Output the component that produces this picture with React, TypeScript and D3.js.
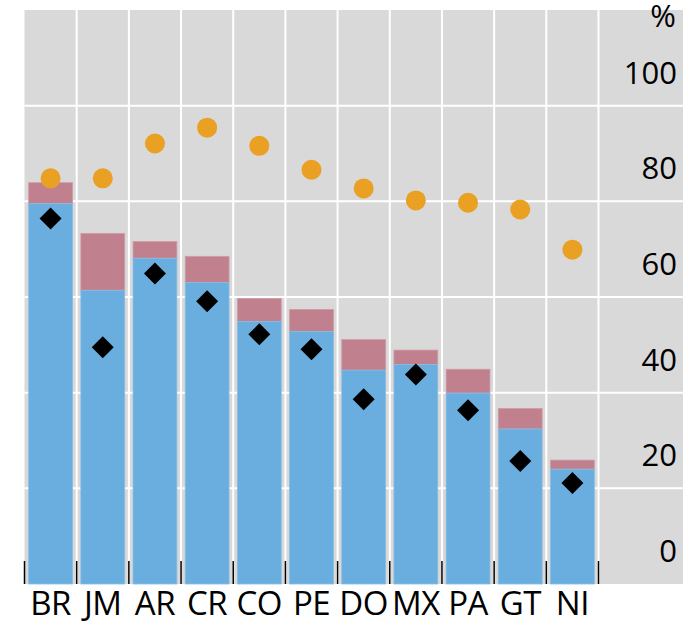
import React from "react";
import * as d3 from "d3";

const categories = ["BR", "JM", "AR", "CR", "CO", "PE", "DO", "MX", "PA", "GT", "NI"];
const blueValues = [79.5, 61.4, 68.1, 63.0, 54.9, 52.8, 44.7, 45.9, 39.9, 32.4, 24.0];
const totalValues = [83.9, 73.3, 71.6, 68.5, 59.7, 57.4, 51.1, 48.9, 44.9, 36.7, 25.9];
const dotValues = [84.8, 84.8, 92.1, 95.4, 91.6, 86.6, 82.7, 80.2, 79.7, 78.3, 69.9];
const diamondValues = [76.4, 49.5, 64.9, 59.1, 52.2, 49.1, 38.6, 43.8, 36.3, 25.7, 21.1];
const yTicks = [0, 20, 40, 60, 80, 100];

const W = 689;
const H = 625;
const FONT = "'Open Sans', 'Noto Sans', sans-serif";

export default function App() {
  const left = 24.5;
  const right = 683;
  const catRight = 598.5;
  const top = 10;
  const bottom = 584;

  const xStep = d3.scaleBand<string>().domain(categories).range([left, catRight]).padding(0);
  const xBar = d3
    .scaleBand<string>()
    .domain(categories)
    .range([left, catRight])
    .paddingInner(0.16)
    .paddingOuter(0.08);
  const y = d3.scaleLinear().domain([0, 120]).range([bottom, top]);

  const boundaries = categories.map((c) => xStep(c) as number).concat([catRight]);
  const diamondPath = (cx: number, cy: number, r: number) =>
    `M${cx},${cy - r}L${cx + r},${cy}L${cx},${cy + r}L${cx - r},${cy}Z`;

  return (
    <svg
      width={W}
      height={H}
      style={{ position: "absolute", left: 0, top: 0, display: "block" }}
      fontFamily={FONT}
    >
      <rect x={0} y={0} width={W} height={H} fill="#ffffff" />
      <rect x={left} y={top} width={right - left} height={bottom - top} fill="#d9d9d9" />
      {yTicks
        .filter((t) => t > 0)
        .map((t) => (
          <line key={"h" + t} x1={left} x2={right} y1={y(t)} y2={y(t)} stroke="#ffffff" strokeWidth={2} />
        ))}
      {boundaries.slice(1).map((b, i) => (
        <line key={"v" + i} x1={b} x2={b} y1={top} y2={bottom} stroke="#ffffff" strokeWidth={2} />
      ))}
      {categories.map((c, i) => {
        const x0 = xBar(c) as number;
        const bw = xBar.bandwidth();
        return (
          <g key={"b" + c}>
            <rect
              x={x0}
              y={y(totalValues[i])}
              width={bw}
              height={y(blueValues[i]) - y(totalValues[i])}
              fill="#c1808e"
              stroke="#cf9ba6"
              strokeWidth={0.8}
            />
            <rect
              x={x0}
              y={y(blueValues[i])}
              width={bw}
              height={y(0) - y(blueValues[i])}
              fill="#6aaddf"
              stroke="#86bde6"
              strokeWidth={0.8}
            />
          </g>
        );
      })}
      {boundaries.map((b, i) => (
        <line key={"t" + i} x1={b} x2={b} y1={bottom - 23} y2={bottom} stroke="#000000" strokeWidth={1.5} />
      ))}
      {categories.map((c, i) => {
        const cx = (xBar(c) as number) + xBar.bandwidth() / 2;
        return <circle key={"d" + c} cx={cx} cy={y(dotValues[i])} r={10} fill="#e9a023" />;
      })}
      {categories.map((c, i) => {
        const cx = (xBar(c) as number) + xBar.bandwidth() / 2;
        return <path key={"m" + c} d={diamondPath(cx, y(diamondValues[i]), 11)} fill="#000000" />;
      })}
      {yTicks.map((t) => (
        <text key={"yl" + t} x={677} y={y(t) - 22} textAnchor="end" fontSize={31} fill="#000000">
          {t}
        </text>
      ))}
      <text x={676} y={27} textAnchor="end" fontSize={31} fill="#000000">
        %
      </text>
      {categories.map((c) => (
        <text
          key={"xl" + c}
          x={(xBar(c) as number) + xBar.bandwidth() / 2}
          y={615}
          textAnchor="middle"
          fontSize={33}
          letterSpacing={-0.5}
          fill="#000000"
        >
          {c}
        </text>
      ))}
    </svg>
  );
}
